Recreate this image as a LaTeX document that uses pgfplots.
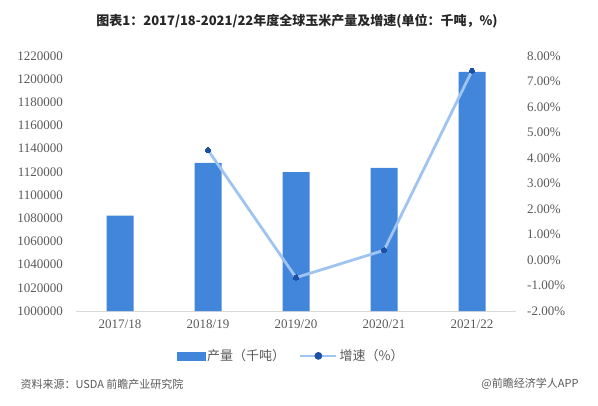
\documentclass[border=0pt]{standalone}
\usepackage{fontspec}
\usepackage{pgfplots}
\pgfplotsset{compat=1.18}
\setmainfont{Liberation Serif}
\newfontfamily\cjk{Noto Sans CJK SC}
\definecolor{barblue}{RGB}{66,134,220}
\definecolor{lineblue}{RGB}{160,196,242}
\definecolor{dotblue}{RGB}{30,80,165}
\definecolor{txt}{RGB}{89,89,89}
\definecolor{axgray}{RGB}{217,217,217}
\begin{document}
\begin{tikzpicture}[x=1bp,y=1bp]
\path[use as bounding box] (0,0) rectangle (598,405);
\node[font=\cjk\bfseries\fontsize{13bp}{15bp}\selectfont, text=black!85] at (297,384) {图表1：2017/18-2021/22年度全球玉米产量及增速(单位：千吨，\%)};
\node[font=\cjk\fontsize{11bp}{13bp}\selectfont, text=txt, anchor=west] at (17,21) {资料来源：USDA 前瞻产业研究院};
\node[font=\cjk\fontsize{11bp}{13bp}\selectfont, text=txt, anchor=east] at (582,21) {@前瞻经济学人APP};
\begin{axis}[
  at={(76bp,94bp)}, anchor=south west,
  scale only axis, width=440bp, height=255bp,
  xmin=-0.5, xmax=4.5,
  ymin=1000000, ymax=1220000,
  scaled y ticks=false,
  separate axis lines,
  axis x line*=bottom, axis y line*=left,
  y axis line style={draw=none},
  x axis line style={draw=axgray, line width=0.8bp, -},
  major tick length=0,
  xtick={0,1,2,3,4},
  xticklabels={2017/18,2018/19,2019/20,2020/21,2021/22},
  ytick={1000000,1020000,1040000,1060000,1080000,1100000,1120000,1140000,1160000,1180000,1200000,1220000},
  yticklabels={1000000,1020000,1040000,1060000,1080000,1100000,1120000,1140000,1160000,1180000,1200000,1220000},
  tick label style={font=\fontsize{13bp}{15bp}\selectfont, text=txt},
  yticklabel style={inner sep=0pt, xshift=-13bp},
  xticklabel style={inner sep=0pt, yshift=-9bp},
  /pgf/number format/assume math mode=true,
]
\addplot[ybar, bar width=27bp, fill=barblue, draw=none, bar shift=0pt]
  coordinates {(0,1082200) (1,1127900) (2,1119900) (3,1123400) (4,1206200)};
\end{axis}
\begin{axis}[
  at={(76bp,94bp)}, anchor=south west,
  scale only axis, width=440bp, height=255bp,
  xmin=-0.5, xmax=4.5,
  ymin=-2, ymax=8,
  axis y line*=right, axis x line=none,
  y axis line style={draw=none},
  major tick length=0,
  ytick={-2,-1,0,1,2,3,4,5,6,7,8},
  yticklabels={-2.00\%,-1.00\%,0.00\%,1.00\%,2.00\%,3.00\%,4.00\%,5.00\%,6.00\%,7.00\%,8.00\%},
  tick label style={font=\fontsize{13bp}{15bp}\selectfont, text=txt},
  yticklabel style={inner sep=0pt, xshift=11bp},
  legend columns=2,
  legend style={draw=none, fill=none, at={(0.489,-0.176)}, anchor=center,
    font=\cjk\fontsize{13bp}{15bp}\selectfont, text=txt,
    /tikz/every even column/.append style={column sep=12bp}},
]
\addlegendimage{legend image code/.code={\fill[barblue] (0bp,-4bp) rectangle (28bp,4bp);}}
\addlegendentry{产量（千吨）}
\addplot[lineblue, line width=2.8bp, mark=*, mark size=2.6bp,
  mark options={fill=dotblue, draw=dotblue, line width=0pt},
  legend image code/.code={\draw[lineblue, line width=2.5bp] (0bp,0bp) -- (36bp,0bp); \fill[dotblue] (18bp,0bp) circle (2.4bp);}]
  coordinates {(1,4.31) (2,-0.69) (3,0.38) (4,7.42)};
\addlegendentry{增速（\%）}
\end{axis}
\end{tikzpicture}
\end{document}
